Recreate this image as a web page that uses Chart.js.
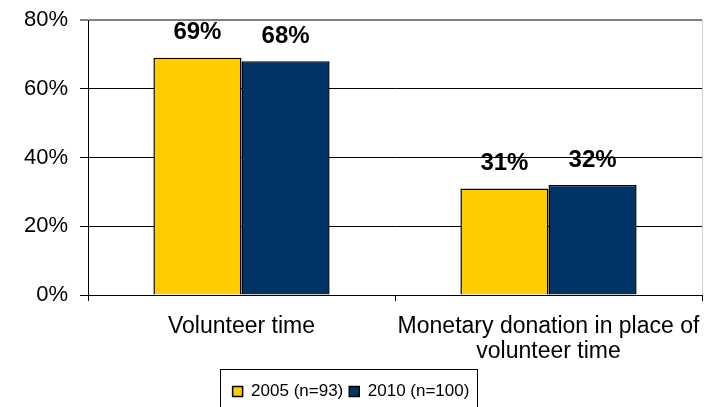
<!DOCTYPE html>
<html>
<head>
<meta charset="utf-8">
<script src="https://cdn.jsdelivr.net/npm/chart.js@4"></script>
<style>
	html, body { margin: 0; padding: 0; background: #fff; }
	#wrap { width: 707px; height: 407px; }
</style>
</head>
<body>
<div id="wrap"><canvas id="chart"></canvas></div>
<script>
const categories = ['Volunteer time', ['Monetary donation in place of', 'volunteer time']];
const series_names = ['2005 (n=93)', '2010 (n=100)'];
const values_2005 = [69, 31];
const values_2010 = [68, 32];
const y_ticks = [0, 20, 40, 60, 80];

const font_family = '"Liberation Sans", Arial, sans-serif';

// value labels over each bar
const bar_labels = {
	id: 'bar_labels',
	afterDatasetsDraw(chart){
		const ctx = chart.ctx;
		ctx.save();
		ctx.font = 'bold 24px ' + font_family;
		ctx.fillStyle = '#000';
		ctx.textAlign = 'center';
		ctx.textBaseline = 'middle';
		chart.data.datasets.forEach(function(ds, i){
			chart.getDatasetMeta(i).data.forEach(function(bar, j){
				ctx.fillText(ds.data[j] + '%', bar.x, bar.y - 25);
			});
		});
		ctx.restore();
	}
};

// nudge the legend down, frame it, and draw the light right edge of the plot
const frames = {
	id: 'frames',
	afterLayout(chart){
		const lg = chart.legend;
		lg.top += 3;
		lg.bottom += 3;
	},
	afterDraw(chart){
		const ctx = chart.ctx;
		const area = chart.chartArea;
		ctx.save();
		ctx.strokeStyle = '#d0d0d0';
		ctx.lineWidth = 1;
		ctx.beginPath();
		ctx.moveTo(area.right + 0.5, area.top);
		ctx.lineTo(area.right + 0.5, area.bottom);
		ctx.stroke();

		const boxes = chart.legend.legendHitBoxes;
		if(boxes && boxes.length){
			const first = boxes[0];
			const last = boxes[boxes.length - 1];
			const mid = first.top + first.height / 2;
			const x0 = first.left - 13;
			const x1 = last.left + last.width + 7;
			const y0 = mid - 23;
			ctx.strokeStyle = '#000';
			ctx.lineWidth = 1;
			ctx.strokeRect(Math.round(x0) + 0.5, Math.round(y0) + 0.5, Math.round(x1 - x0), 60);
		}
		ctx.restore();
	}
};

new Chart(document.getElementById('chart'), {
	type: 'bar',
	data: {
		labels: categories,
		datasets: [
			{
				label: series_names[0],
				data: values_2005,
				backgroundColor: '#FFCC00',
				borderColor: '#000',
				borderWidth: 1.5,
				borderSkipped: 'bottom'
			},
			{
				label: series_names[1],
				data: values_2010,
				backgroundColor: '#003366',
				borderColor: '#000',
				borderWidth: 1.5,
				borderSkipped: 'bottom'
			}
		]
	},
	options: {
		responsive: true,
		maintainAspectRatio: false,
		animation: false,
		datasets: {
			bar: {
				categoryPercentage: 0.574,
				barPercentage: 1
			}
		},
		layout: {
			padding: { top: 20, right: 5, bottom: 0, left: 0 }
		},
		plugins: {
			legend: {
				position: 'bottom',
				labels: {
					color: '#000',
					font: { family: font_family, size: 17 },
					boxWidth: 10,
					boxHeight: 10,
					padding: 6
				}
			},
			tooltip: { enabled: false }
		},
		scales: {
			x: {
				offset: true,
				grid: {
					offset: true,
					drawOnChartArea: false,
					color: '#000',
					tickLength: 6
				},
				border: { color: '#000', width: 1 },
				ticks: {
					color: '#000',
					font: { family: font_family, size: 23, lineHeight: 1.05 },
					maxRotation: 0,
					autoSkip: false,
					padding: 14
				},
				afterFit: function(scale){
					scale.height = 79;
					scale.paddingLeft = 0;
					scale.paddingRight = 0;
				}
			},
			y: {
				min: 0,
				max: 80,
				afterBuildTicks: function(scale){
					scale.ticks = y_ticks.map(function(v){ return { value: v }; });
				},
				grid: {
					color: function(c){ return c.tick && c.tick.value === 80 ? '#808080' : '#000'; },
					lineWidth: function(c){ return c.tick && c.tick.value === 80 ? 2 : 1; },
					tickLength: 8
				},
				border: { color: '#000', width: 1 },
				ticks: {
					color: '#000',
					font: { family: font_family, size: 22 },
					padding: 12,
					callback: function(v){ return v + '%'; }
				},
				afterFit: function(scale){
					scale.width = 88;
					scale.paddingTop = 0;
					scale.paddingBottom = 0;
				}
			}
		}
	},
	plugins: [bar_labels, frames]
});
</script>
</body>
</html>
